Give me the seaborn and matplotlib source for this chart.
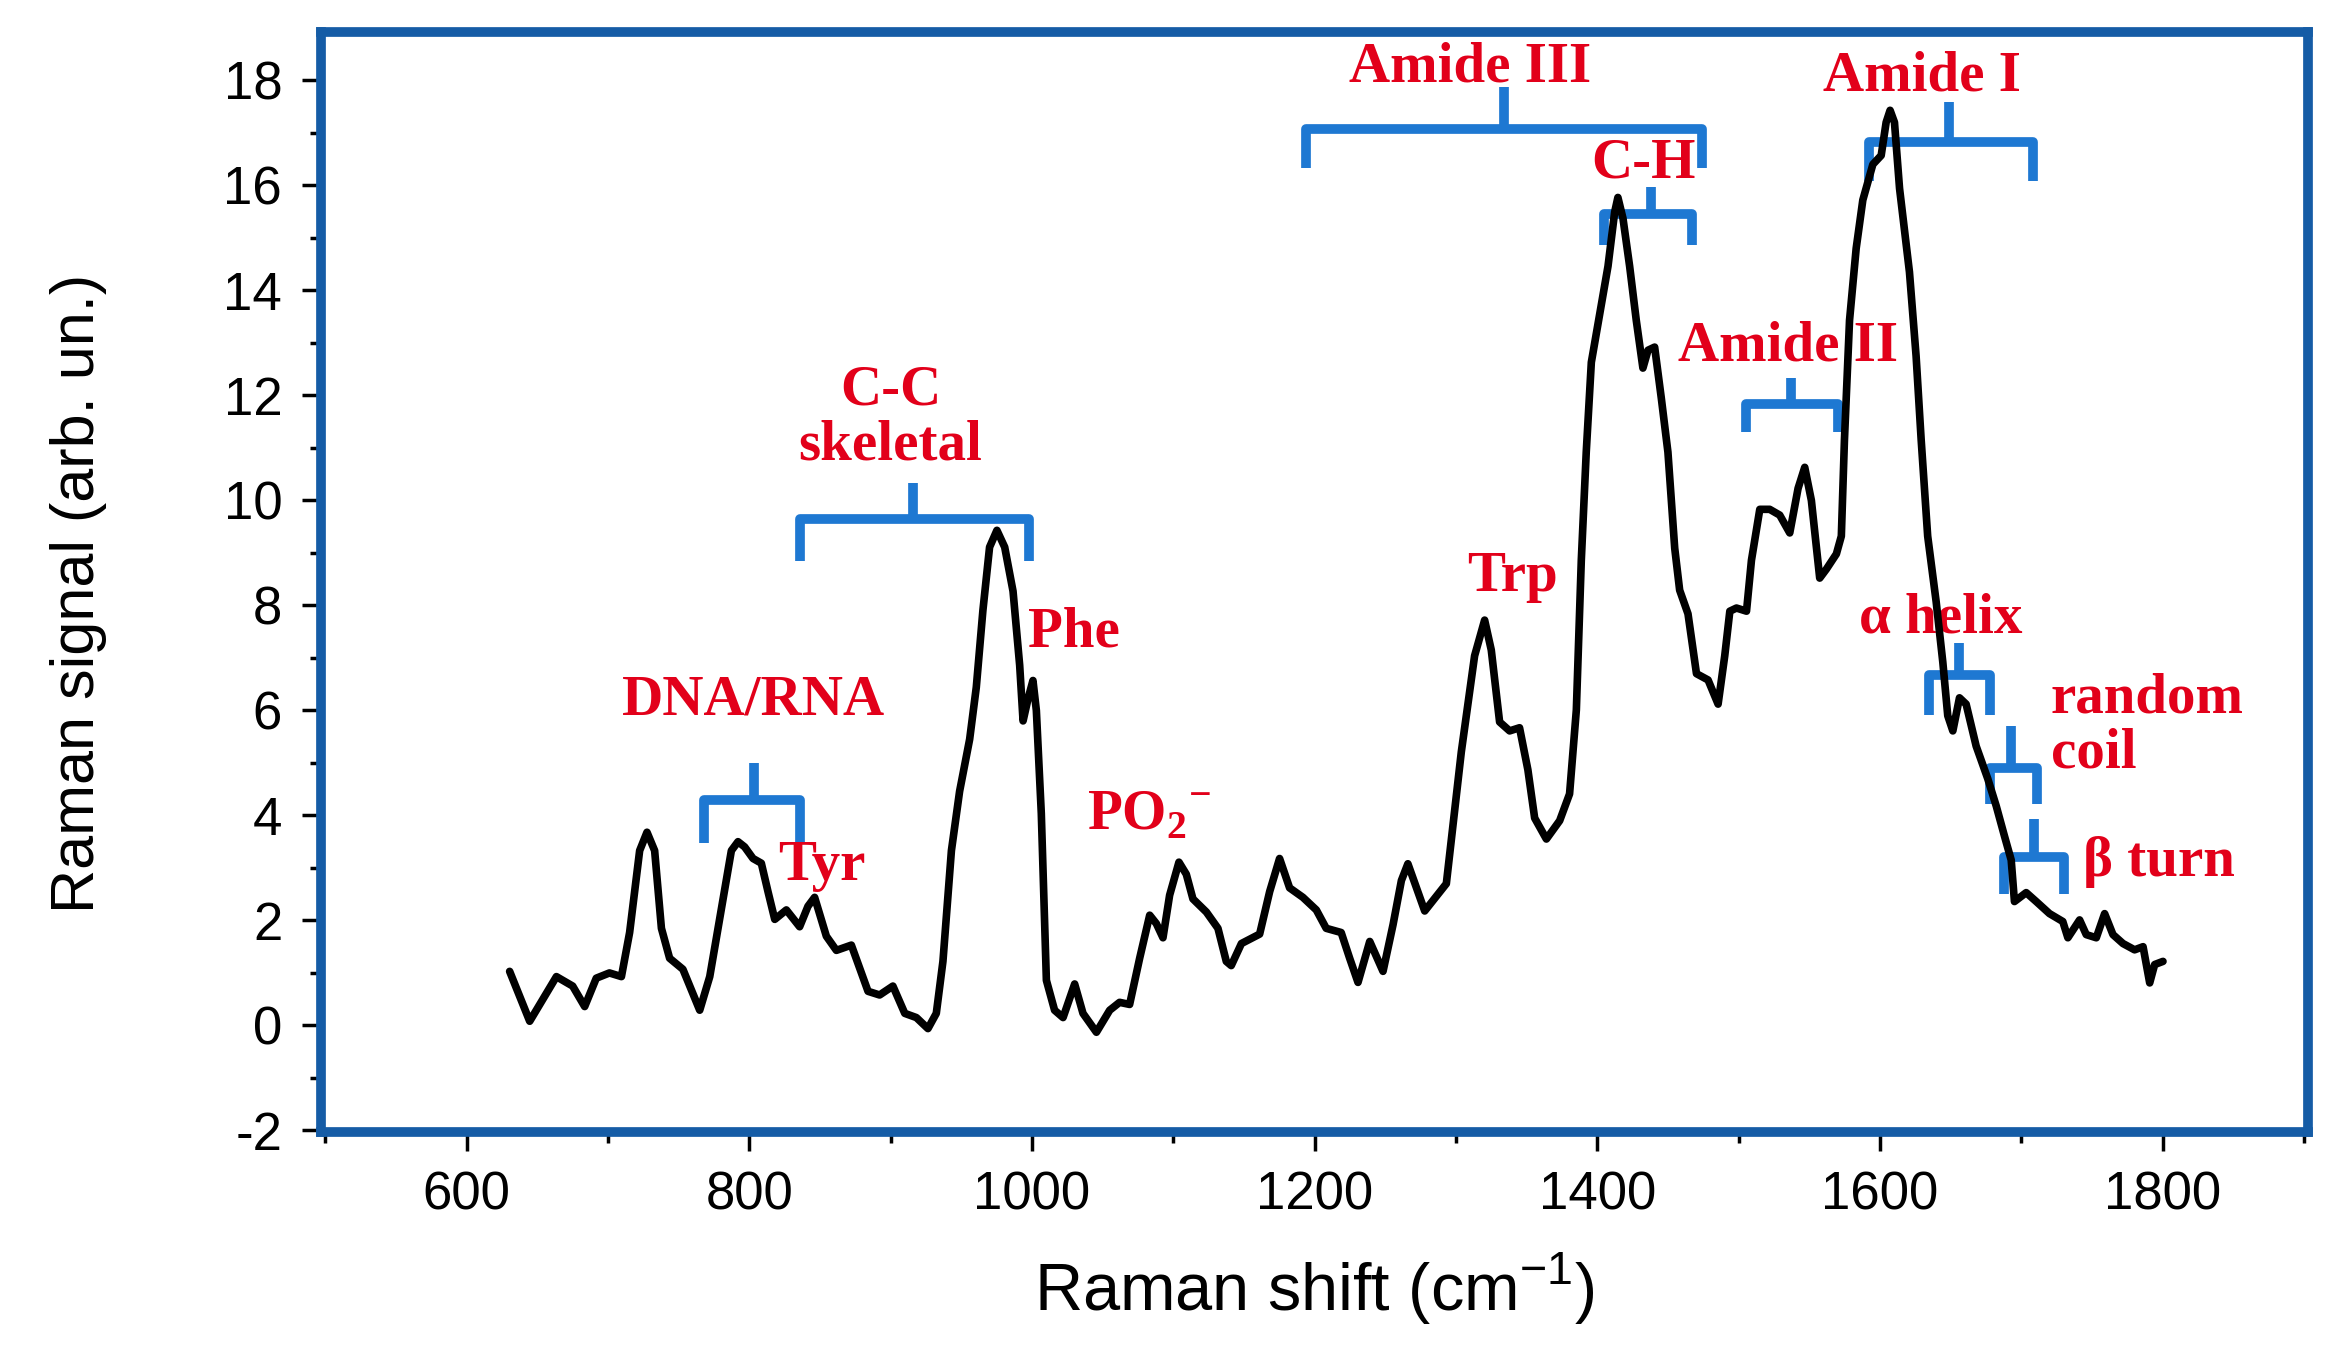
import matplotlib
matplotlib.use("Agg")
import matplotlib.pyplot as plt
from matplotlib.ticker import MultipleLocator
import pandas as pd
import seaborn as sns

# Raman spectrum
shift = [630.4, 644.6, 663.5, 675.0, 683.5, 691.7, 701.0, 709.5, 715.3, 722.4,
         727.6, 733.0, 737.8, 743.6, 753.0, 764.9, 772.0, 781.4, 787.3, 792.0,
         796.7, 802.6, 808.5, 813.2, 818.0, 826.2, 835.6, 841.5, 846.2, 854.5,
         861.6, 872.2, 884.0, 892.2, 901.6, 910.0, 918.2, 926.4, 932.3, 937.0,
         943.0, 948.8, 955.9, 960.6, 965.3, 970.0, 975.2, 980.7, 986.6, 991.3,
         993.7, 997.2, 1000.7, 1003.1, 1006.6, 1010.2, 1016.0, 1022.0, 1030.2, 1036.1,
         1045.6, 1055.0, 1062.0, 1069.1, 1076.2, 1083.3, 1088.0, 1092.7, 1097.4, 1104.0,
         1109.2, 1113.9, 1123.4, 1131.6, 1137.5, 1141.0, 1148.2, 1161.1, 1168.2, 1175.2,
         1182.3, 1191.7, 1201.2, 1208.2, 1218.8, 1224.8, 1230.7, 1239.0, 1248.4, 1255.5,
         1261.4, 1266.0, 1277.9, 1293.2, 1303.8, 1313.2, 1320.3, 1325.0, 1330.9, 1338.0,
         1345.0, 1350.9, 1355.7, 1364.0, 1373.4, 1380.4, 1385.2, 1388.7, 1392.2, 1395.8,
         1401.7, 1407.6, 1412.3, 1414.6, 1418.2, 1422.9, 1427.6, 1432.3, 1435.9, 1440.6,
         1445.3, 1450.0, 1454.8, 1458.3, 1464.2, 1470.2, 1478.4, 1485.5, 1490.2, 1493.8,
         1498.5, 1505.6, 1509.1, 1515.0, 1522.0, 1529.1, 1536.2, 1542.1, 1546.8, 1551.5,
         1557.4, 1562.1, 1569.2, 1572.7, 1574.9, 1578.5, 1583.2, 1587.9, 1595.0, 1600.9,
         1604.4, 1607.2, 1610.3, 1613.9, 1620.9, 1625.6, 1629.2, 1633.8, 1639.8, 1644.5,
         1648.0, 1651.6, 1656.3, 1661.0, 1668.1, 1676.3, 1682.3, 1688.1, 1692.9, 1695.2,
         1703.5, 1710.6, 1720.0, 1729.4, 1733.0, 1741.3, 1746.0, 1753.1, 1759.0, 1764.9,
         1772.0, 1780.2, 1786.2, 1790.9, 1794.4, 1800.3]
signal = [1.03, 0.08, 0.93, 0.75, 0.36, 0.90, 1.00, 0.93, 1.77, 3.33,
          3.68, 3.33, 1.85, 1.28, 1.07, 0.29, 0.93, 2.41, 3.33, 3.50,
          3.40, 3.18, 3.09, 2.55, 2.02, 2.20, 1.88, 2.27, 2.44, 1.70,
          1.43, 1.53, 0.65, 0.58, 0.75, 0.23, 0.15, -0.06, 0.23, 1.22,
          3.33, 4.46, 5.45, 6.44, 7.91, 9.11, 9.43, 9.11, 8.27, 6.86,
          5.80, 6.22, 6.57, 6.00, 4.04, 0.86, 0.29, 0.15, 0.79, 0.23,
          -0.13, 0.29, 0.44, 0.40, 1.28, 2.10, 1.94, 1.67, 2.48, 3.11,
          2.88, 2.41, 2.16, 1.85, 1.22, 1.14, 1.56, 1.74, 2.55, 3.18,
          2.62, 2.44, 2.20, 1.85, 1.77, 1.28, 0.82, 1.60, 1.03, 1.92,
          2.76, 3.08, 2.18, 2.70, 5.21, 7.04, 7.72, 7.15, 5.78, 5.61,
          5.67, 4.87, 3.95, 3.55, 3.90, 4.41, 6.01, 8.86, 10.92, 12.63,
          13.55, 14.46, 15.49, 15.77, 15.37, 14.46, 13.43, 12.52, 12.86, 12.92,
          11.95, 10.92, 9.09, 8.29, 7.84, 6.70, 6.58, 6.12, 7.04, 7.89,
          7.95, 7.89, 8.86, 9.83, 9.83, 9.72, 9.38, 10.23, 10.63, 10.00,
          8.52, 8.69, 8.98, 9.32, 11.15, 13.43, 14.80, 15.72, 16.40, 16.57,
          17.20, 17.43, 17.20, 15.94, 14.35, 12.75, 11.15, 9.32, 8.07, 6.92,
          5.90, 5.61, 6.24, 6.12, 5.32, 4.70, 4.18, 3.61, 3.15, 2.36,
          2.53, 2.36, 2.13, 1.98, 1.67, 2.01, 1.73, 1.67, 2.13, 1.73,
          1.56, 1.44, 1.50, 0.81, 1.16, 1.22]

# band labels: text, x, y, horizontal alignment
band_text = ["DNA/RNA", "Tyr", "C-C\nskeletal", "Phe",
             "PO$_{\\mathregular{2}}$$^{\\mathregular{-}}$",
             "Trp", "Amide III", "C-H", "Amide II", "Amide I", "α helix",
             "random\ncoil", "β turn"]
band_x = [803, 851, 900, 1030, 1083, 1340, 1310, 1433, 1535, 1630, 1643, 1721, 1744]
band_y = [6.18, 3.03, 11.57, 7.49, 4.0, 8.55, 18.25, 16.42, 12.93, 18.08, 7.75, 5.70, 3.12]
band_ha = ["center"] * 11 + ["left", "left"]

# brackets: left, right, centre tip, bar level, end level, tip level
br_left = [767.6, 835.6, 1194, 1405, 1505, 1592, 1635, 1678, 1688]
br_right = [835.6, 997.7, 1474, 1467, 1570, 1708, 1678, 1711, 1730]
br_mid = [803, 916, 1334, 1438, 1537, 1649, 1656, 1693, 1709]
br_bar = [4.30, 9.64, 17.07, 15.45, 11.83, 16.82, 6.67, 4.91, 3.20]
br_end = [3.47, 8.85, 16.34, 14.86, 11.30, 16.08, 5.92, 4.21, 2.51]
br_tip = [5.00, 10.34, 17.87, 15.97, 12.34, 17.58, 7.28, 5.70, 3.94]

df = pd.DataFrame({"shift": shift, "signal": signal})

sns.set_style("ticks")
plt.rcParams["font.family"] = ["Liberation Sans", "DejaVu Sans"]
plt.rcParams["axes.unicode_minus"] = False
plt.rcParams["text.color"] = "black"
plt.rcParams["axes.labelcolor"] = "black"
plt.rcParams["xtick.color"] = "black"
plt.rcParams["ytick.color"] = "black"

fig = plt.figure(figsize=(23.49, 13.70), dpi=100)
ax = fig.add_axes([0.1367, 0.1737, 0.8459, 0.8029])

sns.lineplot(data=df, x="shift", y="signal", ax=ax, color="black", lw=5.5,
             estimator=None, sort=False, zorder=5, solid_joinstyle="round")

bracket_color = "#1e78d2"
red = "#e2001a"
for xl, xr, xm, yb, ye, yt in zip(br_left, br_right, br_mid, br_bar, br_end, br_tip):
    ax.plot([xl, xl, xr, xr], [ye, yb, yb, ye], color=bracket_color, lw=7,
            solid_joinstyle="round", solid_capstyle="butt", zorder=3)
    ax.plot([xm, xm], [yb, yt], color=bracket_color, lw=7,
            solid_capstyle="butt", zorder=3)

for t, x, y, ha in zip(band_text, band_x, band_y, band_ha):
    ax.text(x, y, t, color=red, fontsize=41, fontweight="bold", ha=ha, va="center",
            family=["Liberation Serif", "DejaVu Serif"], linespacing=1.08, zorder=4)

ax.set_xlim(497, 1903)
ax.set_ylim(-2.03, 18.92)
ax.xaxis.set_major_locator(MultipleLocator(200))
ax.xaxis.set_minor_locator(MultipleLocator(100))
ax.yaxis.set_major_locator(MultipleLocator(2))
ax.yaxis.set_minor_locator(MultipleLocator(1))
ax.set_xticks(range(600, 1801, 200))

spine_color = "#155ca6"
for side in ["left", "right", "top", "bottom"]:
    ax.spines[side].set_visible(True)
    ax.spines[side].set_color(spine_color)
    ax.spines[side].set_linewidth(7)

ax.tick_params(which="major", direction="out", length=14, width=2.5, color="black",
               labelsize=38, labelcolor="black", pad=14, top=False, right=False)
ax.tick_params(which="minor", direction="out", length=8, width=2.5, color="black",
               top=False, right=False)

ax.set_xlabel("Raman shift (cm$^{\\mathregular{-1}}$)", fontsize=48, color="black")
ax.set_ylabel("Raman signal (arb. un.)", fontsize=44, color="black")
ax.xaxis.set_label_coords(0.5, -0.108)
ax.yaxis.set_label_coords(-0.108, 0.49)

fig.savefig("out.png", dpi=100)
